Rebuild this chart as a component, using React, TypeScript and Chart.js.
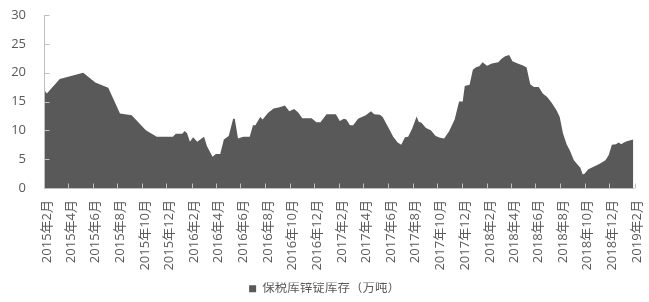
import React, { useEffect, useRef } from "react";
import { Chart, registerables } from "chart.js";

Chart.register(...registerables);

const seriesName = "保税库锌锭库存（万吨）";

// days since 2015-02-01
const dayOffsets = [
  0, 7, 39, 97, 127, 159, 188, 217, 252, 279,
  319, 326, 342, 348, 354, 361, 369, 379, 396, 403,
  417, 425, 436, 445, 457, 468, 472, 480, 493, 509,
  517, 523, 535, 541, 554, 568, 583, 596, 607, 619,
  629, 639, 662, 674, 684, 699, 722, 732, 742, 748,
  757, 765, 777, 796, 809, 817, 831, 838, 851, 864,
  875, 884, 893, 901, 911, 922, 927, 934, 945, 957,
  969, 980, 990, 1002, 1016, 1027, 1036, 1041, 1053, 1061,
  1070, 1077, 1085, 1096, 1108, 1124, 1132, 1141, 1151, 1159,
  1172, 1185, 1194, 1203, 1212, 1224, 1234, 1245, 1256, 1268,
  1276, 1284, 1293, 1301, 1311, 1321, 1327, 1333, 1338, 1346,
  1357, 1375, 1389, 1397, 1405, 1415, 1422, 1428, 1435, 1442,
  1451, 1458,
];

const stockValues = [
  17.1, 16.4, 18.9, 20.0, 18.3, 17.4, 12.9, 12.6, 10.0, 8.9,
  8.9, 9.4, 9.4, 9.9, 9.5, 8.0, 8.8, 8.0, 8.9, 7.3,
  5.4, 5.9, 5.9, 8.4, 9.0, 12.0, 12.0, 8.6, 8.9, 8.9,
  10.9, 10.9, 12.3, 11.9, 13.0, 13.8, 14.0, 14.3, 13.3, 13.7,
  13.1, 12.1, 12.1, 11.4, 11.4, 12.8, 12.8, 11.6, 12.0, 11.9,
  10.9, 10.9, 12.0, 12.6, 13.3, 12.8, 12.7, 12.3, 10.6, 8.9,
  7.9, 7.5, 8.8, 8.9, 10.3, 12.4, 11.5, 11.3, 10.4, 10.0,
  9.0, 8.7, 8.6, 9.8, 11.9, 15.0, 15.0, 17.7, 17.9, 20.5,
  21.0, 21.1, 21.8, 21.2, 21.6, 21.8, 22.4, 22.85, 23.05, 22.0,
  21.6, 21.25, 20.9, 18.0, 17.5, 17.5, 16.4, 15.8, 14.8, 13.5,
  12.3, 9.5, 7.6, 6.5, 4.8, 4.0, 3.5, 2.35, 2.5, 3.2,
  3.6, 4.2, 4.8, 5.7, 7.5, 7.6, 7.9, 7.6, 7.9, 8.1,
  8.3, 8.4,
];

const tickLabels = [
  "2015年2月", "2015年4月", "2015年6月", "2015年8月", "2015年10月", "2015年12月",
  "2016年2月", "2016年4月", "2016年6月", "2016年8月", "2016年10月", "2016年12月",
  "2017年2月", "2017年4月", "2017年6月", "2017年8月", "2017年10月", "2017年12月",
  "2018年2月", "2018年4月", "2018年6月", "2018年8月", "2018年10月", "2018年12月",
  "2019年2月",
];

const yMin = 0;
const yMax = 30;
const yStep = 5;

const BASE = Date.UTC(2015, 1, 1);
function labelToDay(label: string): number {
  const m = label.match(/(\d+)年(\d+)月/);
  if (!m) return 0;
  return Math.round((Date.UTC(+m[1], +m[2] - 1, 1) - BASE) / 86400000);
}
const tickDays = tickLabels.map(labelToDay);

const AXIS_COLOR = "#bfbfbf";
const TEXT_COLOR = "#595959";
const FILL_COLOR = "#595959";
const FONT = '"Open Sans", "Noto Sans CJK SC", sans-serif';
const CLEAR = "rgba(0,0,0,0)";

const insideTicks = {
  id: "insideTicks",
  afterDatasetsDraw(chart: any) {
    const { ctx, chartArea, scales } = chart;
    const x = scales.x;
    const y = scales.y;
    ctx.save();
    ctx.strokeStyle = AXIS_COLOR;
    ctx.lineWidth = 1;
    ctx.beginPath();
    const bottom = Math.round(chartArea.bottom) + 0.5;
    const left = Math.round(chartArea.left) + 0.5;
    ctx.moveTo(left, chartArea.top);
    ctx.lineTo(left, bottom);
    ctx.lineTo(chartArea.right, bottom);
    tickDays.forEach((d) => {
      const px = Math.round(x.getPixelForValue(d)) + 0.5;
      ctx.moveTo(px, bottom);
      ctx.lineTo(px, bottom - 5);
    });
    for (let v = yMin; v <= yMax; v += yStep) {
      const py = Math.round(y.getPixelForValue(v)) + 0.5;
      ctx.moveTo(left, py);
      ctx.lineTo(left + 5, py);
    }
    ctx.stroke();
    ctx.restore();
  },
};

export default function App() {
  const ref = useRef<HTMLCanvasElement | null>(null);

  useEffect(() => {
    if (!ref.current) return;
    const points = dayOffsets.map((d, i) => ({ x: d, y: stockValues[i] }));
    const chart = new Chart(ref.current, {
      type: "line",
      data: {
        datasets: [
          {
            label: seriesName,
            data: points,
            backgroundColor: FILL_COLOR,
            borderColor: FILL_COLOR,
            borderWidth: 0,
            pointRadius: 0,
            fill: "origin",
            tension: 0,
          },
        ],
      },
      options: {
        animation: false,
        responsive: false,
        devicePixelRatio: 1,
        layout: { padding: { left: 0, right: 0, top: 15, bottom: -3 } },
        plugins: {
          tooltip: { enabled: false },
          legend: {
            display: true,
            position: "bottom",
            labels: {
              boxWidth: 7,
              boxHeight: 7,
              color: TEXT_COLOR,
              font: { family: FONT, size: 12.5 },
              padding: 0,
            },
          },
        },
        scales: {
          x: {
            type: "linear",
            min: 0,
            max: tickDays[tickDays.length - 1],
            grid: {
              display: true,
              drawOnChartArea: false,
              drawTicks: true,
              tickLength: 12,
              tickColor: CLEAR,
              color: CLEAR,
            },
            border: { display: false },
            afterBuildTicks: (scale: any) => {
              scale.ticks = tickDays.map((v) => ({ value: v }));
            },
            afterFit: (scale: any) => {
              scale.height = 94.5;
            },
            ticks: {
              autoSkip: false,
              minRotation: 90,
              maxRotation: 90,
              padding: 0,
              labelOffset: 3,
              color: TEXT_COLOR,
              font: { family: FONT, size: 13, lineHeight: 1.115 },
              callback: (value: any) => {
                const i = tickDays.indexOf(Number(value));
                return i >= 0 ? tickLabels[i] : "";
              },
            },
          },
          y: {
            min: yMin,
            max: yMax,
            grid: {
              display: true,
              drawOnChartArea: false,
              drawTicks: true,
              tickLength: 18,
              tickColor: CLEAR,
              color: CLEAR,
            },
            border: { display: false },
            afterFit: (scale: any) => {
              scale.width = 44;
            },
            ticks: {
              stepSize: yStep,
              padding: 0,
              color: TEXT_COLOR,
              font: { family: FONT, size: 13 },
            },
          },
        },
      },
      plugins: [insideTicks],
    });
    return () => chart.destroy();
  }, []);

  return (
    <div style={{ position: "fixed", left: 0, top: 0, width: 649, height: 302, background: "#fff" }}>
      <canvas ref={ref} width={649} height={302} style={{ width: 649, height: 302 }} />
    </div>
  );
}
